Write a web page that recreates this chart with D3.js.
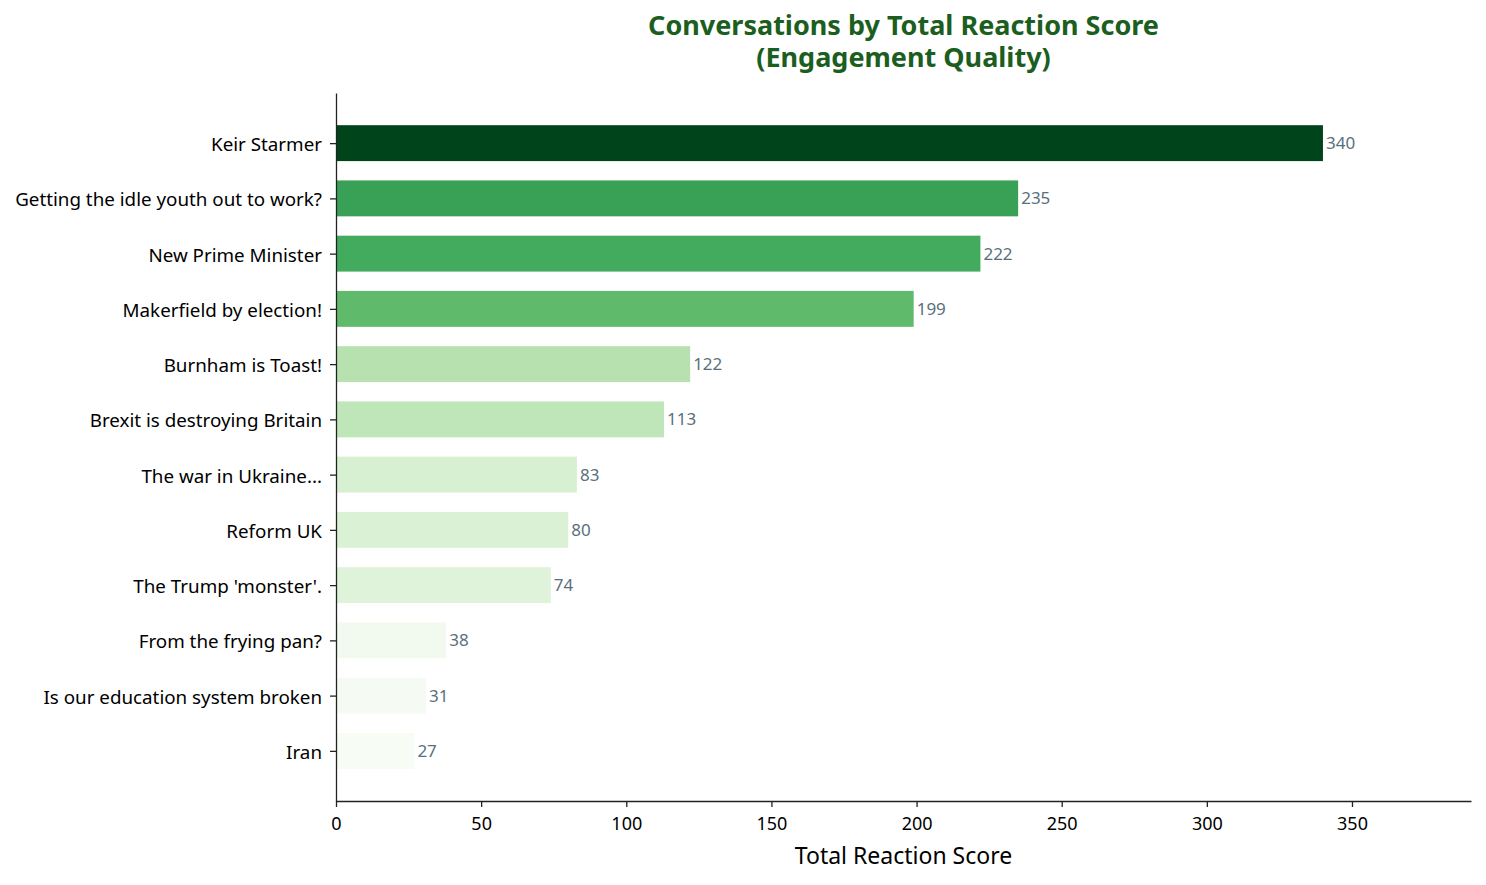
<!DOCTYPE html>
<html>
<head>
<meta charset="utf-8">
<script src="https://cdn.jsdelivr.net/npm/d3@7"></script>
<style>
  body { margin: 0; background: #fff; }
  svg, svg text { font-family: "Noto Sans", "DejaVu Sans", sans-serif; }
</style>
</head>
<body>
<div id="chart"></div>
<script>
// data, top to bottom
const topics = ["Keir Starmer", "Getting the idle youth out to work?", "New Prime Minister",
    "Makerfield by election!", "Burnham is Toast!", "Brexit is destroying Britain",
    "The war in Ukraine...", "Reform UK", "The Trump 'monster'.", "From the frying pan?",
    "Is our education system broken", "Iran"];
const scores = [340, 235, 222, 199, 122, 113, 83, 80, 74, 38, 31, 27];
const xTicks = [0, 50, 100, 150, 200, 250, 300, 350];
// matplotlib "Greens" stops
const greens = ["#f7fcf5", "#e5f5e0", "#c7e9c0", "#a1d99b", "#74c476", "#41ab5d", "#238b45", "#006d2c", "#00441b"];

// dimensions
const W = 1486, H = 885;
const margin = { top: 93, right: 15, bottom: 84, left: 336 },
    width = W - margin.left - margin.right,
    height = H - margin.top - margin.bottom;

const svg = d3.select("#chart")
    .append("svg")
    .attr("width", W)
    .attr("height", H);

const g = svg.append("g")
    .attr("transform", `translate(${margin.left}, ${margin.top})`);

const maxScore = d3.max(scores), minScore = d3.min(scores);

// scales
const x = d3.scaleLinear()
    .domain([0, maxScore * 1.15])
    .range([0, width]);

// bar height 0.65 of a slot, 5% padding each end like matplotlib
const n = topics.length;
const span = (n - 1) + 0.65;
const pad = span * 0.05;
const y = d3.scaleLinear()
    .domain([-0.325 - pad, n - 1 + 0.325 + pad])
    .range([0, height]);
const bh = y(0.65) - y(0);

const cmap = d3.piecewise(d3.interpolateRgb, greens);
const color = d3.scaleLinear().domain([minScore, maxScore]).range([0, 1]);

// bars
g.selectAll("rect.bar")
    .data(scores)
    .join("rect")
    .attr("class", "bar")
    .attr("x", x(0))
    .attr("y", (d, i) => y(i) - bh / 2)
    .attr("width", d => x(d) - x(0))
    .attr("height", bh)
    .style("fill", d => cmap(color(d)));

// value labels
g.selectAll("text.val")
    .data(scores)
    .join("text")
    .attr("class", "val")
    .attr("x", d => x(d) + 3)
    .attr("y", (d, i) => y(i))
    .attr("dy", "0.35em")
    .style("font-size", "17px")
    .style("fill", "#5a6f7c")
    .text(d => d);

// x axis
const xAxis = g.append("g")
    .attr("transform", `translate(0, ${height})`)
    .call(d3.axisBottom(x).tickValues(xTicks).tickSize(6).tickPadding(10).tickSizeOuter(0));
xAxis.selectAll("text").style("font-size", "18px").style("fill", "#000");

// y axis
const yAxis = g.append("g")
    .call(d3.axisLeft(y).tickValues(d3.range(n)).tickFormat(i => topics[i])
        .tickSize(6).tickPadding(8).tickSizeOuter(0));
yAxis.selectAll("text").style("font-size", "18.8px").style("fill", "#000").attr("dy", "0.4em");

svg.selectAll(".domain, .tick line").style("stroke", "#222").style("stroke-width", 1.3);

// axis label
svg.append("text")
    .attr("x", margin.left + width / 2)
    .attr("y", 864)
    .attr("text-anchor", "middle")
    .style("font-size", "23px")
    .text("Total Reaction Score");

// title
const title = svg.append("text")
    .attr("text-anchor", "middle")
    .style("font-size", "27px")
    .style("font-weight", "bold")
    .style("fill", "#1b5e20");
title.append("tspan").attr("x", margin.left + width / 2).attr("y", 35).text("Conversations by Total Reaction Score");
title.append("tspan").attr("x", margin.left + width / 2).attr("y", 67).text("(Engagement Quality)");
</script>
</body>
</html>
